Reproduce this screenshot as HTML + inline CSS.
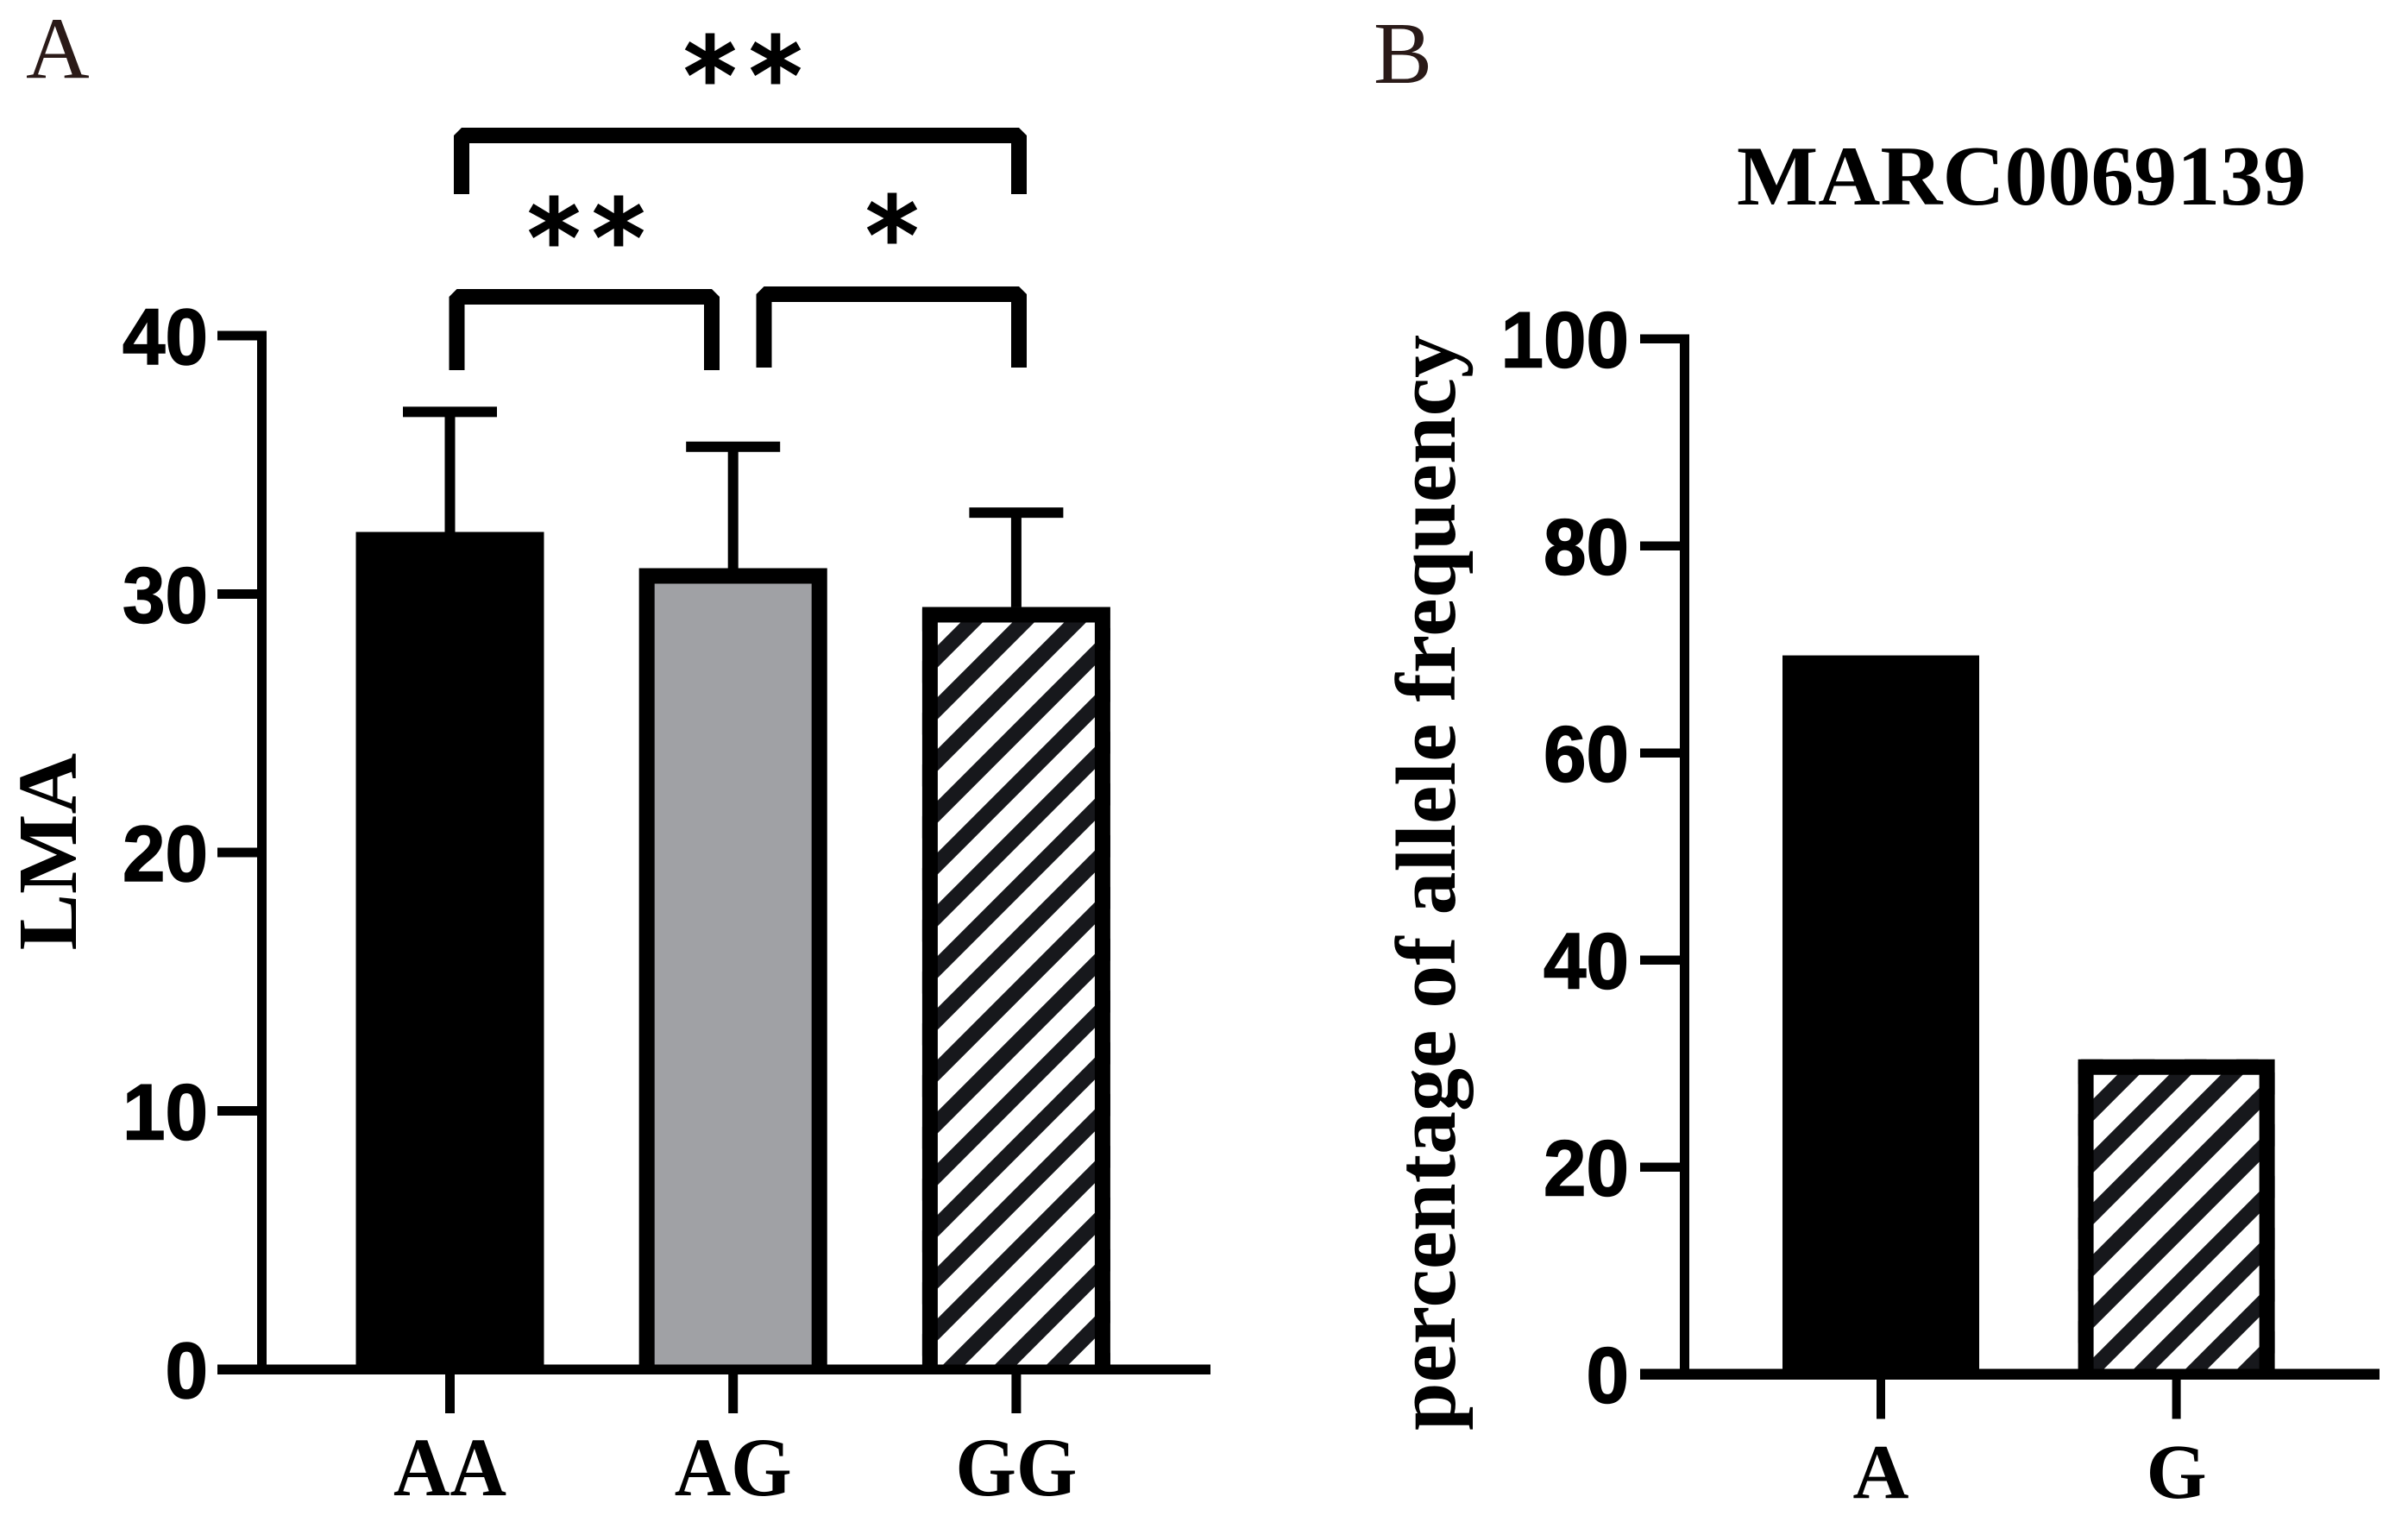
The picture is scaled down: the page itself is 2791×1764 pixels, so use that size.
<!DOCTYPE html>
<html lang="en">
<head>
<meta charset="utf-8">
<title>LMA by genotype and MARC0069139 allele frequency</title>
<style>
html,body{margin:0;padding:0;background:#fff;}
body{width:2791px;height:1764px;overflow:hidden;}
svg{display:block;}
.serif{font-family:"Liberation Serif",serif;font-weight:700;fill:#000;}
.sans{font-family:"Liberation Sans",sans-serif;font-weight:700;fill:#000;stroke:#000;stroke-width:1.5;}
.panel{font-family:"Liberation Serif",serif;font-weight:400;fill:#2a1a18;font-size:102px;}
.star{font-family:"DejaVu Sans",sans-serif;font-weight:400;fill:#000;stroke:#000;stroke-width:4;font-size:120px;text-anchor:middle;}
.br{fill:none;stroke:#000;stroke-width:18;stroke-linejoin:bevel;stroke-linecap:butt;}
</style>
</head>
<body>
<svg id="fig" xmlns="http://www.w3.org/2000/svg" width="2791" height="1764" viewBox="0 0 2791 1764">
  <defs id="defs"></defs>
  <rect width="2791" height="1764" fill="#fff"/>

  <text class="panel" x="30" y="90">A</text>
  <text class="panel" x="1592" y="96">B</text>

  <g id="chartA"></g>
  <g id="chartB"></g>

  <text class="serif" font-size="98" text-anchor="middle" transform="translate(88,987) rotate(-90)">LMA</text>
  <text class="serif" font-size="99" x="2013" y="237" textLength="660" lengthAdjust="spacingAndGlyphs">MARC0069139</text>
  <text class="serif" font-size="99" transform="translate(1686,1658) rotate(-90)" textLength="1270" lengthAdjust="spacingAndGlyphs">percentage of allele frequency</text>

  <path class="br" d="M535 225V157H1181V225"/>
  <path class="br" d="M529.500 429V344H825V429"/>
  <path class="br" d="M885.500 426V341H1181V426"/>

  <text class="star" x="823" y="130">*</text>
  <text class="star" x="899" y="130">*</text>
  <text class="star" x="642" y="318">*</text>
  <text class="star" x="717" y="318">*</text>
  <text class="star" x="1034" y="315">*</text>
</svg>
<script>
// Panel A data
const genotypes = ['AA', 'AG', 'GG'];
const lmaMeans = [32.4, 31.0, 29.5];
const lmaErrors = [4.65, 4.7, 3.65];
const lmaTicks = [0, 10, 20, 30, 40];
// Panel B data
const alleles = ['A', 'G'];
const alleleFrequency = [69.4, 30.4];
const freqTicks = [0, 20, 40, 60, 80, 100];

const NS = 'http://www.w3.org/2000/svg';
function mk(parent, tag, attrs, txt) {
  const e = document.createElementNS(NS, tag);
  for (const k in attrs) e.setAttribute(k, attrs[k]);
  if (txt !== undefined) e.textContent = txt;
  parent.appendChild(e);
  return e;
}

// Axis functions
const yA = v => 1587 - v * (1587 - 389) / 40;
const xA = i => 521.5 + i * 328.2;
const yB = v => 1592.5 - v * 12;
const xB = i => 2180 + i * 342.6;

// Bar: fill + three-sided border; hatched bars get 45-degree clipped stripes
function drawBar(parent, cx, w, top, base, fill, hatchOffset, id) {
  const g = mk(parent, 'g', {});
  
  
  mk(g, 'rect', {x: cx - w / 2, y: top, width: w, height: base - top, fill: fill});
  if (hatchOffset !== null) {
    const cp = mk(document.getElementById('defs'), 'clipPath', {id: id});
    mk(cp, 'rect', {x: cx - w / 2, y: top, width: w, height: base - top});
    const h = mk(g, 'g', {'clip-path': 'url(#' + id + ')'});
    const x0 = cx - w / 2, x1 = cx + w / 2;
    const minC = x0 + top, maxC = x1 + base;
    const start = Math.floor((minC - hatchOffset) / 60) * 60 + hatchOffset;
    for (let c = start; c <= maxC; c += 60) {
      const sx = Math.max(x0, c - base) - 14;
      const ex = Math.min(x1, c - top) + 14;
      if (ex <= sx) continue;
      mk(h, 'line', {x1: sx, y1: c - sx, x2: ex, y2: c - ex, stroke: '#17181c', 'stroke-width': 18});
    }
  }
  const l = cx - w / 2 + 9, r = cx + w / 2 - 9;
  mk(g, 'path', {d: 'M' + l + ' ' + base + 'V' + (top + 9) + 'H' + r + 'V' + base, fill: 'none', stroke: '#000', 'stroke-width': 18, 'stroke-linejoin': 'miter'});
}

// ---------- Panel A ----------
const A = document.getElementById('chartA');
genotypes.forEach((g, i) => {
  const cx = xA(i), top = yA(lmaMeans[i]), errTop = yA(lmaMeans[i] + lmaErrors[i]), w = 218;
  const stem = mk(A, 'rect', {x: cx - 6, y: errTop, width: 12, height: top - errTop + 2, fill: '#000'});
  
  
  const cap = mk(A, 'rect', {x: cx - 54.5, y: errTop - 6, width: 109, height: 12, fill: '#000'});
  
  
  const fills = ['#000', '#a0a1a5', '#fff'];
  drawBar(A, cx, w, top, yA(0), fills[i], i === 2 ? 47.5 : null, 'clipA' + i);
  const tick = mk(A, 'rect', {x: cx - 5.5, y: yA(0), width: 11, height: 51, fill: '#000'});
  
  
  const lab = mk(A, 'text', {class: 'serif', 'font-size': 96, x: cx, y: 1733, 'text-anchor': 'middle', textLength: [131, 136, 141][i], lengthAdjust: 'spacingAndGlyphs'}, g);
  
  
});
const axisYA = mk(A, 'rect', {x: 298, y: yA(40) - 5.5, width: 11, height: yA(0) - yA(40) + 5.5, fill: '#000'});


const axisXA = mk(A, 'rect', {x: 252, y: yA(0) - 5.5, width: 1151, height: 11.5, fill: '#000'});


lmaTicks.forEach(t => {
  const tk = mk(A, 'rect', {x: 252, y: yA(t) - 5.5, width: 50, height: 11, fill: '#000'});
  
  
  const s = String(t);
  const lb = mk(A, 'text', {class: 'sans', 'font-size': 92, x: 241, y: yA(t) + 33, 'text-anchor': 'end', textLength: s.length * 49.5, lengthAdjust: 'spacingAndGlyphs'}, s);
  
  
});

// ---------- Panel B ----------
const B = document.getElementById('chartB');
alleles.forEach((a, i) => {
  const cx = xB(i), top = yB(alleleFrequency[i]), w = 228;
  const fills = ['#000', '#fff'];
  drawBar(B, cx, w, top, yB(0), fills[i], i === 1 ? 52.5 : null, 'clipB' + i);
  const tick = mk(B, 'rect', {x: cx - 5, y: yB(0), width: 10, height: 52, fill: '#000'});
  
  
  const lab = mk(B, 'text', {class: 'serif', 'font-size': 90, x: cx, y: 1736, 'text-anchor': 'middle'}, a);
  
  
});
const axisYB = mk(B, 'rect', {x: 1947, y: yB(100) - 5, width: 11, height: yB(0) - yB(100) + 5, fill: '#000'});


const axisXB = mk(B, 'rect', {x: 1901, y: yB(0) - 6, width: 857, height: 12.5, fill: '#000'});


freqTicks.forEach(t => {
  const tk = mk(B, 'rect', {x: 1901, y: yB(t) - 5, width: 50, height: 10.5, fill: '#000'});
  
  
  const s = String(t);
  const lb = mk(B, 'text', {class: 'sans', 'font-size': 92, x: 1888, y: yB(t) + 33, 'text-anchor': 'end', textLength: s.length * 49.5, lengthAdjust: 'spacingAndGlyphs'}, s);
  
  
});
</script>
</body>
</html>
